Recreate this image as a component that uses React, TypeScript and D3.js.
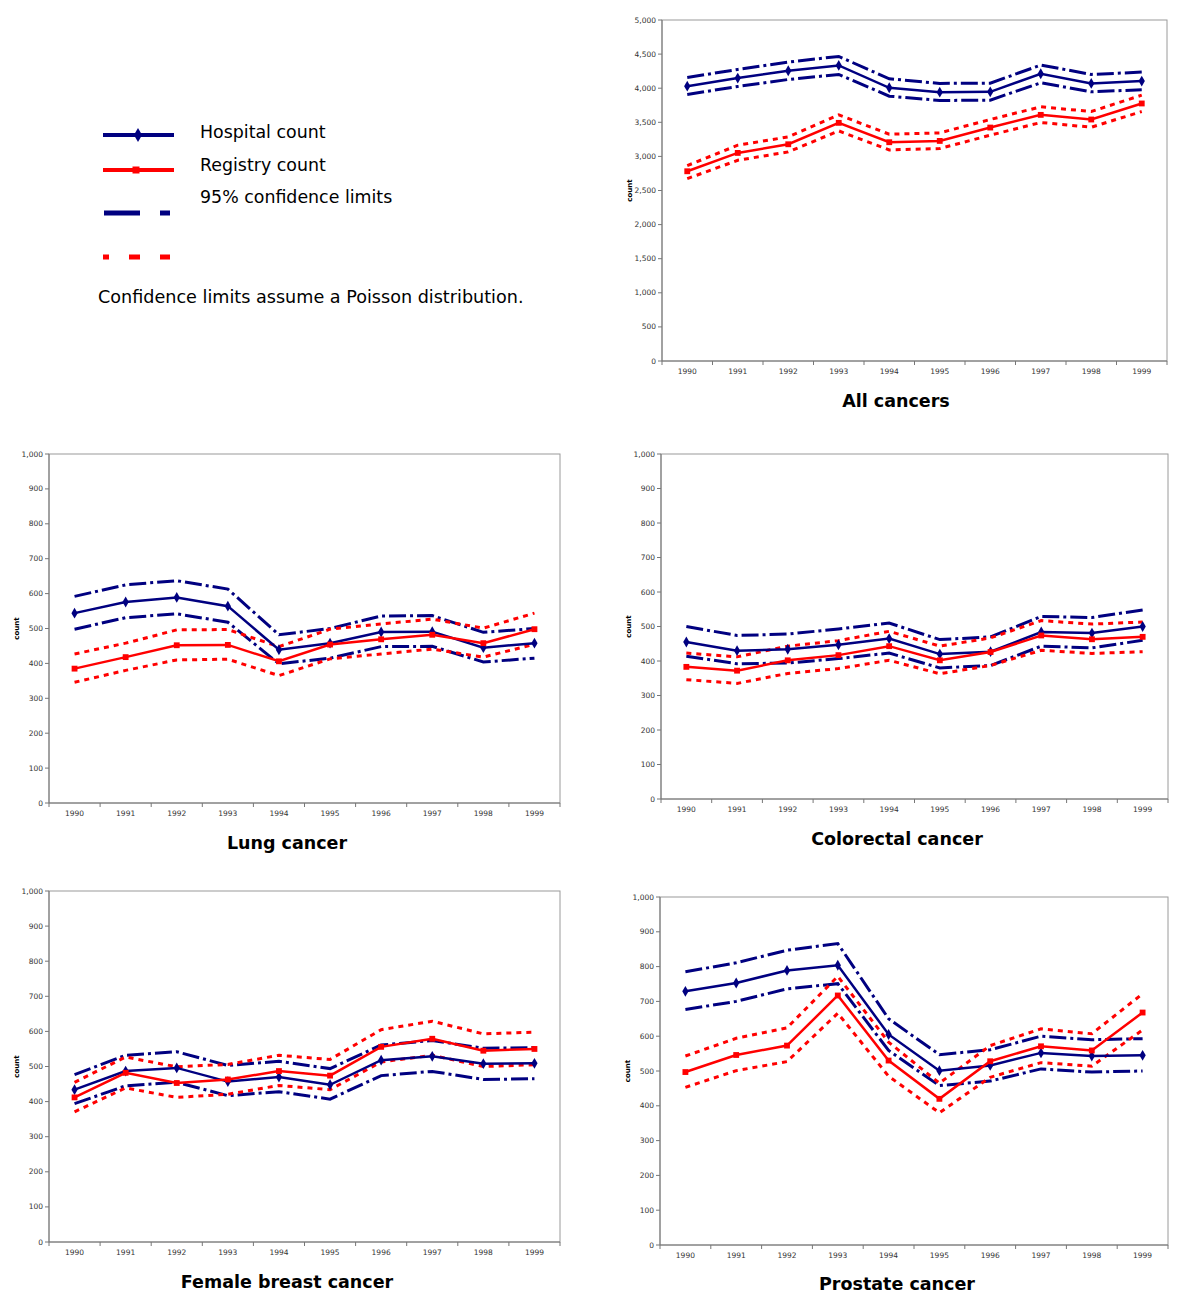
import React from "react";
import * as d3 from "d3";

const years = ["1990","1991","1992","1993","1994","1995","1996","1997","1998","1999"];

// All cancers
const allHospital = [4030,4148,4256,4334,4006,3942,3947,4212,4070,4104];
const allHospitalUpper = [4158,4275,4383,4466,4138,4070,4074,4339,4202,4236];
const allHospitalLower = [3908,4025,4128,4202,3883,3820,3825,4079,3947,3977];
const allRegistry = [2782,3051,3178,3492,3208,3227,3423,3609,3541,3776];
const allRegistryUpper = [2865,3164,3286,3609,3325,3345,3541,3727,3658,3898];
const allRegistryLower = [2674,2943,3066,3374,3095,3115,3311,3497,3428,3658];

// Lung cancer
const lungHospital = [544,576,589,564,439,458,490,491,445,458];
const lungHospitalUpper = [592,625,637,613,482,500,536,537,489,500];
const lungHospitalLower = [498,531,542,518,399,415,448,449,404,415];
const lungRegistry = [385,418,452,453,406,454,469,482,458,498];
const lungRegistryUpper = [427,458,496,497,448,498,513,527,501,544];
const lungRegistryLower = [346,380,410,412,365,413,427,441,418,455];

// Colorectal cancer
const colHospital = [455,430,434,447,465,420,427,484,481,500];
const colHospitalUpper = [500,474,478,493,510,462,470,529,526,548];
const colHospitalLower = [414,392,394,407,423,380,387,443,438,460];
const colRegistry = [383,372,402,417,443,402,426,474,463,470];
const colRegistryUpper = [423,412,443,459,486,443,467,517,507,513];
const colRegistryLower = [346,335,364,378,402,363,387,431,422,427];

// Female breast cancer
const brHospital = [434,487,496,457,470,448,518,529,508,509];
const brHospitalUpper = [477,532,542,503,515,494,561,574,552,554];
const brHospitalLower = [394,445,455,417,428,407,474,486,463,465];
const brRegistry = [412,482,453,463,487,474,556,579,545,550];
const brRegistryUpper = [455,527,499,506,532,520,605,629,593,598];
const brRegistryLower = [371,439,412,421,446,434,513,532,500,505];

// Prostate cancer
const prHospital = [729,753,789,804,605,501,516,552,543,545];
const prHospitalUpper = [785,811,847,866,650,547,561,600,590,593];
const prHospitalLower = [677,700,736,751,559,458,471,506,497,500];
const prRegistry = [497,546,573,717,530,420,528,571,559,668];
const prRegistryUpper = [543,594,624,772,583,465,573,621,607,722];
const prRegistryLower = [453,501,527,666,485,380,482,524,514,618];

const legendLabels = ["Hospital count", "Registry count", "95% confidence limits"];
const legendNote = "Confidence limits assume a Poisson distribution.";

const NAVY = "#000080";
const RED = "#ff0000";

type ChartDef = {
  title: string;
  yMax: number;
  step: number;
  hosp: number[]; hospUp: number[]; hospLo: number[];
  reg: number[]; regUp: number[]; regLo: number[];
  left: number; right: number; top: number; bottom: number;
  titleX: number; titleY: number;
};

const charts: ChartDef[] = [
  { title: "All cancers", yMax: 5000, step: 500,
    hosp: allHospital, hospUp: allHospitalUpper, hospLo: allHospitalLower,
    reg: allRegistry, regUp: allRegistryUpper, regLo: allRegistryLower,
    left: 662, right: 1167, top: 20, bottom: 361, titleX: 896, titleY: 407 },
  { title: "Lung cancer", yMax: 1000, step: 100,
    hosp: lungHospital, hospUp: lungHospitalUpper, hospLo: lungHospitalLower,
    reg: lungRegistry, regUp: lungRegistryUpper, regLo: lungRegistryLower,
    left: 49, right: 560, top: 454, bottom: 803, titleX: 287, titleY: 849 },
  { title: "Colorectal cancer", yMax: 1000, step: 100,
    hosp: colHospital, hospUp: colHospitalUpper, hospLo: colHospitalLower,
    reg: colRegistry, regUp: colRegistryUpper, regLo: colRegistryLower,
    left: 661, right: 1168, top: 454, bottom: 799, titleX: 897, titleY: 845 },
  { title: "Female breast cancer", yMax: 1000, step: 100,
    hosp: brHospital, hospUp: brHospitalUpper, hospLo: brHospitalLower,
    reg: brRegistry, regUp: brRegistryUpper, regLo: brRegistryLower,
    left: 49, right: 560, top: 891, bottom: 1242, titleX: 287, titleY: 1288 },
  { title: "Prostate cancer", yMax: 1000, step: 100,
    hosp: prHospital, hospUp: prHospitalUpper, hospLo: prHospitalLower,
    reg: prRegistry, regUp: prRegistryUpper, regLo: prRegistryLower,
    left: 660, right: 1168, top: 897, bottom: 1245, titleX: 897, titleY: 1290 },
];

const BLUE_DASH = "17,4,3,4";
const RED_DASH = "5,5";
const FONT = "'DejaVu Sans', Verdana, sans-serif";

const diamond = d3.symbol().type(d3.symbolDiamond).size(34)();
const square = d3.symbol().type(d3.symbolSquare).size(34)();

function Chart({ c }: { c: ChartDef }) {
  const x = d3.scaleBand<string>().domain(years).range([c.left, c.right]).padding(0);
  const y = d3.scaleLinear().domain([0, c.yMax]).range([c.bottom, c.top]);
  const cx = (i: number) => (x(years[i]) as number) + x.bandwidth() / 2;
  const line = d3.line<number>().x((_, i) => cx(i)).y((d) => y(d));
  const ticks = d3.range(0, c.yMax + 1, c.step);
  const fmt = d3.format(",");
  const boundaries = years.map((yr) => x(yr) as number).concat([c.right]);
  return (
    <g>
      <rect x={c.left} y={c.top} width={c.right - c.left} height={c.bottom - c.top}
        fill="white" stroke="#9a9a9a" strokeWidth={1} />
      <line x1={c.left} x2={c.left} y1={c.top} y2={c.bottom} stroke="#777" strokeWidth={1} />
      <line x1={c.left} x2={c.right} y1={c.bottom} y2={c.bottom} stroke="#777" strokeWidth={1} />
      {ticks.map((t) => (
        <g key={t}>
          <line x1={c.left - 4} x2={c.left} y1={y(t)} y2={y(t)} stroke="#777" />
          <text x={c.left - 6} y={y(t) + 2.5} fontSize={7.5} textAnchor="end" fill="#333" fontFamily={FONT}>{fmt(t)}</text>
        </g>
      ))}
      {boundaries.map((b, i) => (
        <line key={i} x1={b} x2={b} y1={c.bottom} y2={c.bottom + 4} stroke="#777" />
      ))}
      {years.map((yr, i) => (
        <text key={yr} x={cx(i)} y={c.bottom + 13} fontSize={7.5} textAnchor="middle" fill="#333" fontFamily={FONT}>{yr}</text>
      ))}
      <text transform={`translate(${c.left - 30},${(c.top + c.bottom) / 2}) rotate(-90)`}
        fontSize={7} fontWeight="bold" textAnchor="middle" fill="#000" fontFamily={FONT}>count</text>
      <path d={line(c.hospUp) || ""} fill="none" stroke={NAVY} strokeWidth={3} strokeDasharray={BLUE_DASH} />
      <path d={line(c.hospLo) || ""} fill="none" stroke={NAVY} strokeWidth={3} strokeDasharray={BLUE_DASH} />
      <path d={line(c.regUp) || ""} fill="none" stroke={RED} strokeWidth={3} strokeDasharray={RED_DASH} />
      <path d={line(c.regLo) || ""} fill="none" stroke={RED} strokeWidth={3} strokeDasharray={RED_DASH} />
      <path d={line(c.hosp) || ""} fill="none" stroke={NAVY} strokeWidth={2.5} />
      {c.hosp.map((v, i) => (
        <path key={"h" + i} d={diamond || ""} transform={`translate(${cx(i)},${y(v)})`} fill={NAVY} />
      ))}
      <path d={line(c.reg) || ""} fill="none" stroke={RED} strokeWidth={2.5} />
      {c.reg.map((v, i) => (
        <path key={"r" + i} d={square || ""} transform={`translate(${cx(i)},${y(v)})`} fill={RED} />
      ))}
      <text x={c.titleX} y={c.titleY} fontSize={17.5} fontWeight="bold" textAnchor="middle" fill="#000" fontFamily={FONT}>{c.title}</text>
    </g>
  );
}

function Legend() {
  return (
    <g fontFamily={FONT}>
      <line x1={103} x2={174} y1={135} y2={135} stroke={NAVY} strokeWidth={4} />
      <path d={diamond || ""} transform="translate(138,135) scale(1.3)" fill={NAVY} />
      <line x1={103} x2={174} y1={170} y2={170} stroke={RED} strokeWidth={4} />
      <path d={square || ""} transform="translate(136,170) scale(1.2)" fill={RED} />
      <line x1={104} x2={172} y1={213} y2={213} stroke={NAVY} strokeWidth={5} strokeDasharray="36,20,10,20" />
      <line x1={103} x2={172} y1={257} y2={257} stroke={RED} strokeWidth={5} strokeDasharray="6,20,11,20,10" />
      {legendLabels.map((l, i) => (
        <text key={l} x={200} y={138 + i * 32.5} fontSize={17.4} fill="#000">{l}</text>
      ))}
      <text x={98} y={303} fontSize={17.6} fill="#000">{legendNote}</text>
    </g>
  );
}

export default function App() {
  return (
    <svg width={1200} height={1304} style={{ position: "absolute", left: 0, top: 0, background: "white" }}>
      <rect x={0} y={0} width={1200} height={1304} fill="white" />
      <Legend />
      {charts.map((c) => <Chart key={c.title} c={c} />)}
    </svg>
  );
}
